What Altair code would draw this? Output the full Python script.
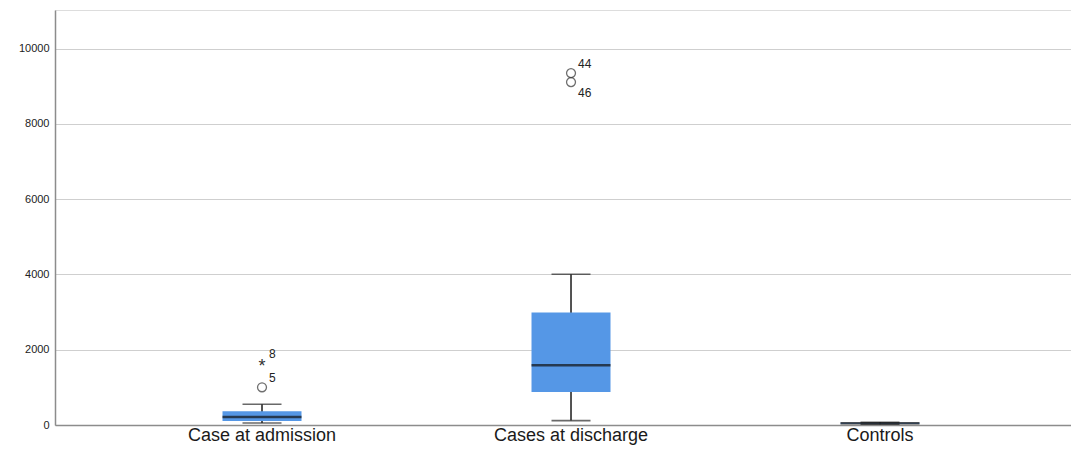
import altair as alt
import pandas as pd

groups = ["Case at admission", "Cases at discharge", "Controls"]
whisker_low = [53, 117, 20]
q1 = [106, 877, 30]
median = [213, 1587, 45]
q3 = [364, 2988, 60]
whisker_high = [550, 4003, 70]

out_group = ["Case at admission", "Case at admission", "Cases at discharge", "Cases at discharge"]
out_value = [1002, 1640, 9349, 9110]
out_label = ["5", "8", "44", "46"]
out_kind = ["circle", "star", "circle", "circle"]
out_pos = ["up", "up", "up", "down"]

box = pd.DataFrame({"group": groups, "lo": whisker_low, "q1": q1, "med": median,
                    "q3": q3, "hi": whisker_high})
outl = pd.DataFrame({"group": out_group, "value": out_value, "label": out_label,
                     "kind": out_kind, "pos": out_pos})

FONT = "Liberation Sans"
xenc = alt.X("group:N", sort=groups, title=None,
             scale=alt.Scale(type="band", paddingInner=0, paddingOuter=0.144, align=0.59),
             axis=alt.Axis(labelAngle=0, labelFontSize=18, labelColor="#1a1a1a", labelFont=FONT,
                           ticks=False, domainColor="#8c8c8c", domainWidth=1.5,
                           labelBaseline="alphabetic", labelPadding=15))
yscale = alt.Scale(domain=[0, 11025], nice=False, zero=True)
yaxis = alt.Axis(values=[0, 2000, 4000, 6000, 8000, 10000], title=None, ticks=False,
                 labelFontSize=11, labelColor="#222", labelFont=FONT, labelPadding=6,
                 grid=True, gridColor="#cfcfcf", gridWidth=1, domainColor="#8c8c8c",
                 domainWidth=1.5, format="d")

base = alt.Chart(box)
whisk = base.mark_rule(color="#2a2a2a", strokeWidth=1.6).encode(
    x=xenc, y=alt.Y("lo:Q", scale=yscale, axis=yaxis), y2="hi:Q")
bars = base.mark_bar(size=79, color="#5597e6", opacity=1).encode(
    x=xenc, y=alt.Y("q1:Q", scale=yscale), y2="q3:Q")
capl = base.mark_tick(size=39, thickness=1.6, color="#2a2a2a").encode(
    x=xenc, y=alt.Y("lo:Q", scale=yscale))
caph = base.mark_tick(size=39, thickness=1.6, color="#2a2a2a").encode(
    x=xenc, y=alt.Y("hi:Q", scale=yscale))
med = base.mark_tick(size=79, thickness=2.6, color="#111").encode(
    x=xenc, y=alt.Y("med:Q", scale=yscale))

ob = alt.Chart(outl)
circ = ob.transform_filter(alt.datum.kind == "circle").mark_point(
    shape="circle", size=80, filled=False, color="#333", strokeWidth=1.3).encode(
    x=xenc, y=alt.Y("value:Q", scale=yscale))
star = ob.transform_filter(alt.datum.kind == "star").mark_text(
    text="*", fontSize=18, font=FONT, color="#333", baseline="middle", dy=4).encode(
    x=xenc, y=alt.Y("value:Q", scale=yscale))
lab_up = ob.transform_filter(alt.datum.pos == "up").mark_text(
    fontSize=12, font=FONT, color="#222", align="left", dx=7, dy=-9).encode(
    x=xenc, y=alt.Y("value:Q", scale=yscale), text="label:N")
lab_dn = ob.transform_filter(alt.datum.pos == "down").mark_text(
    fontSize=12, font=FONT, color="#222", align="left", dx=7, dy=11).encode(
    x=xenc, y=alt.Y("value:Q", scale=yscale), text="label:N")

chart = alt.layer(whisk, bars, capl, caph, med, circ, star, lab_up, lab_dn).properties(
    width=1016, height=415,
    autosize=alt.AutoSizeParams(type="none"),
    padding={"left": 47, "top": 2, "right": 0, "bottom": 20},
).configure_view(stroke=None).configure(background="white")

chart.save("out.html", embed_options={"renderer": "svg", "actions": False})
